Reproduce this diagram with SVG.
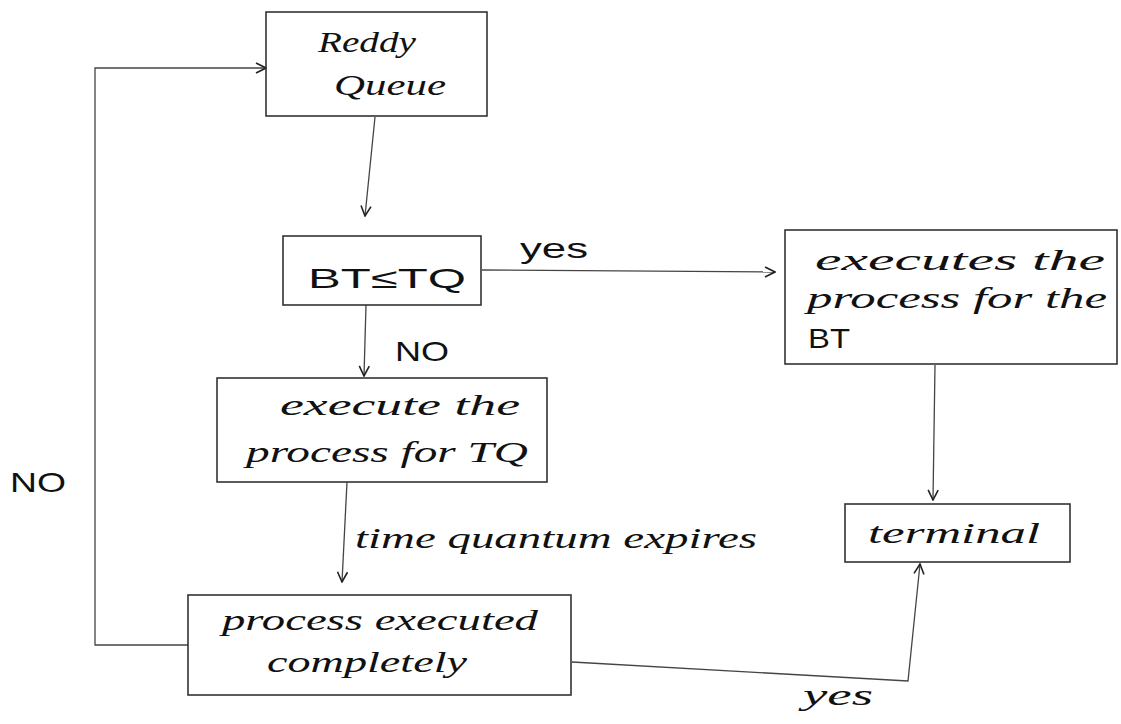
<svg xmlns="http://www.w3.org/2000/svg" width="1121" height="724" viewBox="0 0 1121 724">
<defs>
<marker id="arr" viewBox="0 0 12 12" refX="11" refY="6" markerWidth="12" markerHeight="12" markerUnits="userSpaceOnUse" orient="auto">
<path d="M1,1 L11,6 L1,11" fill="none" stroke="#222" stroke-width="1.6"/>
</marker>
</defs>
<style>
.box{fill:none;stroke:#333;stroke-width:1.6}
.ln{fill:none;stroke:#444;stroke-width:1.3}
.t{font-family:"Liberation Serif","DejaVu Serif",serif;font-style:italic;fill:#111;font-size:30px}
.s{font-family:"Liberation Sans","DejaVu Sans",sans-serif;fill:#111;font-size:28px}
</style>
<rect width="1121" height="724" fill="#fff"/>
<g id="connectors">
<polyline class="ln" points="188,645 95,645 95,68 266,68" marker-end="url(#arr)"/>
<line class="ln" x1="375" y1="117" x2="365" y2="216" marker-end="url(#arr)"/>
<line class="ln" x1="482" y1="270" x2="775" y2="272" marker-end="url(#arr)"/>
<line class="ln" x1="366" y1="305" x2="364" y2="376" marker-end="url(#arr)"/>
<line class="ln" x1="347" y1="482" x2="342" y2="582" marker-end="url(#arr)"/>
<line class="ln" x1="935" y1="365" x2="933" y2="500" marker-end="url(#arr)"/>
<polyline class="ln" points="572,662 908,681 920,564" marker-end="url(#arr)"/>
<text class="s" x="520" y="258" textLength="68" lengthAdjust="spacingAndGlyphs">yes</text>
<text class="s" x="395" y="361" textLength="54" lengthAdjust="spacingAndGlyphs">NO</text>
<text class="t" x="355" y="548" textLength="402" lengthAdjust="spacingAndGlyphs">time quantum expires</text>
<text class="s" x="10" y="492" textLength="56" lengthAdjust="spacingAndGlyphs">NO</text>
<text class="t" x="803" y="705" textLength="70" lengthAdjust="spacingAndGlyphs">yes</text>
</g>
<g id="ready-queue">
<rect class="box" x="266" y="12" width="221" height="104"/>
<text class="t" x="318" y="52" textLength="98" lengthAdjust="spacingAndGlyphs">Reddy</text>
<text class="t" x="334" y="95" textLength="112" lengthAdjust="spacingAndGlyphs">Queue</text>
</g>
<g id="bt-le-tq">
<rect class="box" x="283" y="236" width="198" height="69"/>
<text class="s" x="308" y="288" textLength="158" lengthAdjust="spacingAndGlyphs">BT≤TQ</text>
</g>
<g id="executes-bt">
<rect class="box" x="785" y="230" width="332" height="134"/>
<text class="t" x="815" y="270" textLength="290" lengthAdjust="spacingAndGlyphs">executes the</text>
<text class="t" x="807" y="308" textLength="300" lengthAdjust="spacingAndGlyphs">process for the</text>
<text class="s" x="808" y="348" textLength="42" lengthAdjust="spacingAndGlyphs">BT</text>
</g>
<g id="execute-tq">
<rect class="box" x="217" y="378" width="330" height="104"/>
<text class="t" x="280" y="415" textLength="240" lengthAdjust="spacingAndGlyphs">execute the</text>
<text class="t" x="246" y="462" textLength="282" lengthAdjust="spacingAndGlyphs">process for TQ</text>
</g>
<g id="terminal">
<rect class="box" x="845" y="504" width="225" height="58"/>
<text class="t" x="868" y="543" textLength="172" lengthAdjust="spacingAndGlyphs">terminal</text>
</g>
<g id="process-complete">
<rect class="box" x="188" y="595" width="383" height="100"/>
<text class="t" x="222" y="630" textLength="316" lengthAdjust="spacingAndGlyphs">process executed</text>
<text class="t" x="267" y="672" textLength="200" lengthAdjust="spacingAndGlyphs">completely</text>
</g>
</svg>
